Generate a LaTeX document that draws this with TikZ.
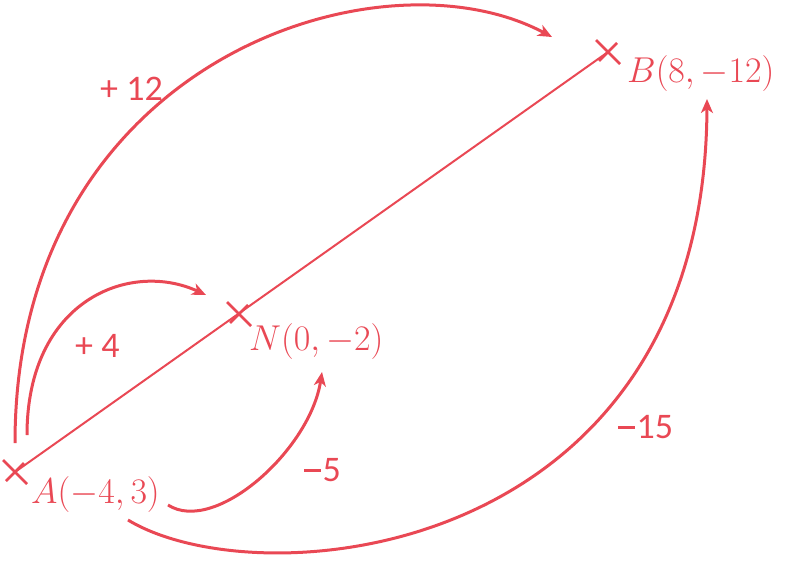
\documentclass[tikz,border=0pt]{standalone}
\usepackage{graphicx}
\usepackage{fontspec}
\newfontfamily\lblfont{Carlito}
\usetikzlibrary{arrows.meta,calc}
\definecolor{pr}{RGB}{233,72,84}
\newcommand{\bigmath}[1]{\scalebox{2.08}{\fontsize{17.28}{20}\selectfont$#1$}}
\newcommand{\mydash}{\rule[9.5pt]{17pt}{2.8pt}\hspace{1.5pt}}
\tikzset{
  arc/.style={draw=pr, line width=3pt, -{Stealth[length=14pt,width=12pt,inset=4pt]}},
  seg/.style={draw=pr, line width=2pt},
  crossmark/.style={draw=pr, line width=2.5pt},
  mathlbl/.style={text=pr, inner sep=0pt, anchor=base west},
  vallbl/.style={text=pr, inner sep=0pt, anchor=base west, font=\lblfont\fontsize{36}{42}\selectfont}
}
\begin{document}
\begin{tikzpicture}[x=1pt,y=-1pt]
\useasboundingbox (0,0) rectangle (799,567);
% points
\coordinate (A) at (15,472);
\coordinate (N) at (239,314);
\coordinate (B) at (608,52);
\draw[seg] (A) -- (B);
\foreach \p in {A,N,B}{
  \draw[crossmark] ($(\p)+(-12,-12)$) -- ($(\p)+(12,12)$);
  \draw[crossmark] ($(\p)+(-9,9)$) -- ($(\p)+(9,-9)$);
}
% labels of points
\node[mathlbl] (lA) at (31,503) {\bigmath{A(-4,3)}};
\node[mathlbl] (lN) at (249,350) {\bigmath{N(0,-2)}};
\node[mathlbl] (lB) at (627,83) {\bigmath{B(8,-12)}};
% arc ends
\coordinate (s12) at (15,443);
\coordinate (e12) at (552,37);
\coordinate (s4) at (27,435);
\coordinate (e4) at (206,295);
\coordinate (s5) at (168,505);
\coordinate (e5) at (322,372);
\coordinate (s15) at (128,520);
\coordinate (e15) at (707,99);
\draw[arc] (s12) .. controls (15,60) and (380,-55) .. (e12);
\draw[arc] (s4) .. controls (27,300) and (130,260) .. (e4);
\draw[arc] (s5) .. controls (215,535) and (310,450) .. (e5);
\draw[arc] (s15) .. controls (260,600) and (705,560) .. (e15);
% value labels
\node[vallbl] (v12) at (100,100) {+ 12};
\node[vallbl] (v4) at (75,357) {+ 4};
\node[vallbl] (v5) at (304,481) {\mydash 5};
\node[vallbl] (v15) at (618,438) {\mydash 15};
\end{tikzpicture}
\end{document}
